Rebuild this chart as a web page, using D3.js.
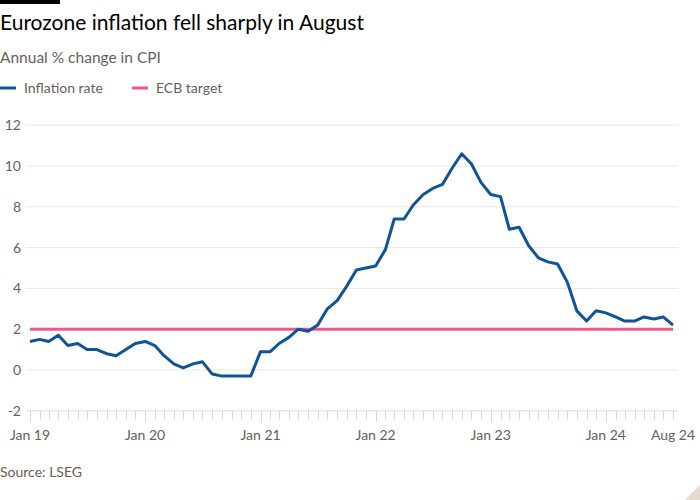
<!DOCTYPE html>
<html>
<head>
<meta charset="utf-8">
<script src="https://cdn.jsdelivr.net/npm/d3@7"></script>
<style>
  body { margin: 0; background: #fff; }
  svg { display: block; }
  text { font-family: Lato, "Open Sans", sans-serif; }
</style>
</head>
<body>
<svg id="chart" width="700" height="500"></svg>
<script>
// ---- Data ----
const startMonth = "2019-01";
const inflation = [
  1.4, 1.5, 1.4, 1.7, 1.2, 1.3, 1.0, 1.0, 0.8, 0.7, 1.0, 1.3,
  1.4, 1.2, 0.7, 0.3, 0.1, 0.3, 0.4, -0.2, -0.3, -0.3, -0.3, -0.3,
  0.9, 0.9, 1.3, 1.6, 2.0, 1.9, 2.2, 3.0, 3.4, 4.1, 4.9, 5.0,
  5.1, 5.9, 7.4, 7.4, 8.1, 8.6, 8.9, 9.1, 9.9, 10.6, 10.1, 9.2,
  8.6, 8.5, 6.9, 7.0, 6.1, 5.5, 5.3, 5.2, 4.3, 2.9, 2.4, 2.9,
  2.8, 2.6, 2.4, 2.4, 2.6, 2.5, 2.6, 2.2
];
const ecbTarget = 2;
const yTicks = [-2, 0, 2, 4, 6, 8, 10, 12];
const xTickLabels = ["Jan 19", "Jan 20", "Jan 21", "Jan 22", "Jan 23", "Jan 24", "Aug 24"];
const xTickDates = ["2019-01", "2020-01", "2021-01", "2022-01", "2023-01", "2024-01", "2024-08"];
const seriesNames = ["Inflation rate", "ECB target"];
const colors = ["#0f5499", "#f0588c"];

// ---- Setup ----
const parse = d3.timeParse("%Y-%m");
const start = parse(startMonth);
const data = inflation.map((v, i) => ({ date: d3.timeMonth.offset(start, i), value: v }));
const svg = d3.select("#chart");

const x = d3.scaleTime()
  .domain([data[0].date, data[data.length - 1].date])
  .range([30, 673]);
const y = d3.scaleLinear().domain([-2, 12]).range([410.8, 125.2]);

// Top bar
svg.append("rect").attr("x", 0).attr("y", 0).attr("width", 60).attr("height", 4).attr("fill", "#000");

// Title, subtitle
svg.append("text").attr("x", 0).attr("y", 30)
  .attr("font-size", 21).attr("fill", "#000")
  .text("Eurozone inflation fell sharply in August");
svg.append("text").attr("x", 0).attr("y", 63)
  .attr("font-size", 15.5).attr("fill", "#66605c")
  .text("Annual % change in CPI");

// Legend
const legend = svg.append("g");
const legendX = [0, 132];
seriesNames.forEach((name, i) => {
  legend.append("line").attr("x1", legendX[i]).attr("x2", legendX[i] + 16)
    .attr("y1", 88).attr("y2", 88)
    .attr("stroke", colors[i]).attr("stroke-width", 3);
  legend.append("text").attr("x", legendX[i] + 24).attr("y", 93)
    .attr("font-size", 14).attr("fill", "#66605c").text(name);
});

// Grid lines
svg.append("g").selectAll("line").data(yTicks.filter(t => t !== -2)).join("line")
  .attr("x1", 26).attr("x2", 678)
  .attr("y1", d => y(d)).attr("y2", d => y(d))
  .attr("stroke", "#ede6df").attr("stroke-width", 1);

// Y labels
svg.append("g").selectAll("text").data(yTicks).join("text")
  .attr("x", 21).attr("y", d => y(d) + 5)
  .attr("text-anchor", "end")
  .attr("font-size", 14).attr("fill", "#66605c")
  .text(d => d);

// X axis
const xAxisG = svg.append("g");
xAxisG.append("line").attr("x1", 26).attr("x2", 678)
  .attr("y1", y(-2)).attr("y2", y(-2))
  .attr("stroke", "#e6dcd3").attr("stroke-width", 1);
const months = d3.timeMonth.range(data[0].date, d3.timeMonth.offset(data[data.length - 1].date, 1));
xAxisG.selectAll("line.tick").data(months).join("line")
  .attr("class", "tick")
  .attr("x1", d => Math.round(x(d)) + 0.5).attr("x2", d => Math.round(x(d)) + 0.5)
  .attr("y1", y(-2)).attr("y2", d => y(-2) + (d.getMonth() === 0 ? 11 : 9))
  .attr("stroke", "#e0d6cd").attr("stroke-width", 1);
xAxisG.selectAll("text").data(xTickDates).join("text")
  .attr("x", d => x(parse(d)))
  .attr("y", 440)
  .attr("text-anchor", "middle")
  .attr("font-size", 14).attr("fill", "#66605c")
  .text((d, i) => xTickLabels[i]);

// ECB target line
svg.append("line")
  .attr("x1", x(data[0].date)).attr("x2", x(data[data.length - 1].date))
  .attr("y1", y(ecbTarget)).attr("y2", y(ecbTarget))
  .attr("stroke", colors[1]).attr("stroke-width", 3);

// Inflation line
const line = d3.line().x(d => x(d.date)).y(d => y(d.value));
svg.append("path").datum(data)
  .attr("d", line)
  .attr("fill", "none")
  .attr("stroke", colors[0])
  .attr("stroke-width", 3)
  .attr("stroke-linejoin", "round");

// Source
svg.append("text").attr("x", 0).attr("y", 477)
  .attr("font-size", 14).attr("fill", "#66605c")
  .text("Source: LSEG");

// Corner mark
svg.append("path").attr("d", "M700,485 L700,500 L685,500 Z").attr("fill", "#e6d9ce");
</script>
</body>
</html>
